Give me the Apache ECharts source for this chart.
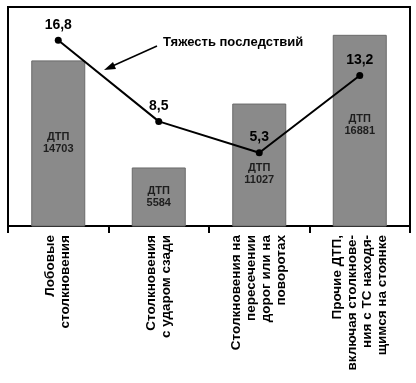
<!DOCTYPE html>
<html>
<head>
<meta charset="utf-8">
<script src="https://cdn.jsdelivr.net/npm/echarts@6/dist/echarts.min.js"></script>
<style>html,body{margin:0;padding:0;background:#fff}#c{width:416px;height:383px}</style>
</head>
<body>
<div id="c"></div>
<script>
const categories = [
  'Лобовые\nстолкновения',
  'Столкновения\nс ударом сзади',
  'Столкновения на\nпересечении\nдорог или на\nповоротах',
  'Прочие ДТП,\nвключая столкнове-\nния с ТС находя-\nщимся на стоянке'
];
const accidents = [14703, 5584, 11027, 16881];
const severity = [16.8, 8.5, 5.3, 13.2];
const severityLabels = ['16,8', '8,5', '5,3', '13,2'];
const annotation = 'Тяжесть последствий';

const chart = echarts.init(document.getElementById('c'), null, {renderer: 'canvas'});
const font = '"Liberation Sans", Arial, sans-serif';
const labelOffsets = [[0, 0], [0, 0], [0, 9], [0, -6]];
chart.setOption({
  animation: false,
  backgroundColor: '#fff',
  grid: {left: 8, right: 6, top: 7, bottom: 157, show: true, borderColor: '#000', borderWidth: 2, backgroundColor: 'transparent'},
  xAxis: {
    type: 'category',
    data: categories,
    axisLine: {onZero: false, lineStyle: {color: '#000', width: 2}},
    axisTick: {show: true, length: 7, lineStyle: {color: '#000', width: 2}},
    axisLabel: {rotate: 90, margin: 9, color: '#000', fontFamily: font, fontWeight: 'bold', fontSize: 13.5, lineHeight: 15, interval: 0}
  },
  yAxis: [
    {type: 'value', min: 600, max: 19250, show: false, splitLine: {show: false}},
    {type: 'value', min: -2.2, max: 20.2, show: false, splitLine: {show: false}}
  ],
  series: [
    {
      type: 'bar',
      data: accidents.map((v, i) => ({value: v, label: {offset: labelOffsets[i]}})),
      barWidth: 54,
      itemStyle: {color: '#8a8a8a', borderColor: '#6a6a6a', borderWidth: 1},
      label: {
        show: true, position: 'inside', color: '#1e1e1e', fontFamily: font, fontSize: 11, fontWeight: 'bold', lineHeight: 12,
        formatter: p => 'ДТП\n' + p.value
      },
      z: 2
    },
    {
      type: 'line',
      yAxisIndex: 1,
      data: severity,
      symbol: 'circle',
      symbolSize: 7,
      lineStyle: {color: '#000', width: 2},
      itemStyle: {color: '#000'},
      label: {
        show: true, position: 'top', distance: 5, color: '#000', fontFamily: font, fontWeight: 'bold', fontSize: 14,
        formatter: p => severityLabels[p.dataIndex]
      },
      z: 5
    }
  ],
  graphic: [
    {type: 'text', left: 163, top: 36, style: {text: annotation, fill: '#000', font: 'bold 13px ' + font}},
    {type: 'line', shape: {x1: 157, y1: 46, x2: 108, y2: 68}, style: {stroke: '#000', lineWidth: 1.5}},
    {type: 'polygon', shape: {points: [[104, 70], [113, 62], [116, 69]]}, style: {fill: '#000'}}
  ]
});
</script>
</body>
</html>
